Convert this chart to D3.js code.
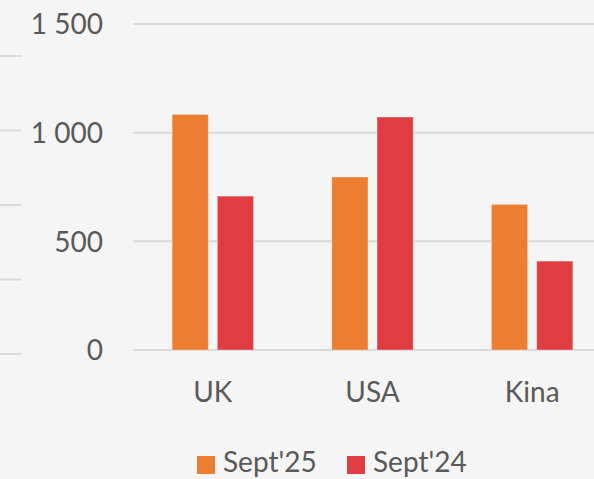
<!DOCTYPE html>
<html>
<head>
<meta charset="utf-8">
<script src="https://cdn.jsdelivr.net/npm/d3@7"></script>
<style>
  html, body { margin: 0; padding: 0; background: #F5F5F5; }
  svg { display: block; }
  text { font-family: Lato, "Open Sans", sans-serif; fill: #595959; }
</style>
</head>
<body>
<svg id="chart" width="594" height="479"></svg>
<script>
// ---- data ----
const categories = ["UK", "USA", "Kina"];
const seriesNames = ["Sept'25", "Sept'24"];
const sept25 = [1084, 796, 670];
const sept24 = [708, 1072, 409];
const yTicks = [0, 500, 1000, 1500];
const colors = ["#ED7D31", "#DF3D41"];
// neighbouring (cropped) chart gridlines at the left edge
const leftGridTicks = [0, 1, 2, 3, 4];

const svg = d3.select("#chart");
const W = 594, H = 479;

const y = d3.scaleLinear().domain([0, 1500]).range([350, 24]);
const x0 = d3.scaleBand().domain(categories).range([133, 612]).paddingInner(0.49).paddingOuter(0.245);
const x1 = d3.scaleBand().domain(seriesNames).range([0, x0.bandwidth()]).paddingInner(0.2);

// left cropped gridlines
const yl = d3.scaleLinear().domain([0, 4]).range([354, 56]);
svg.append("g").selectAll("line").data(leftGridTicks).join("line")
  .attr("x1", 0).attr("x2", 21)
  .attr("y1", d => yl(d)).attr("y2", d => yl(d))
  .attr("stroke", "#D9D9D9").attr("stroke-width", 2);

// gridlines
svg.append("g").selectAll("line").data(yTicks).join("line")
  .attr("x1", 133).attr("x2", W)
  .attr("y1", d => y(d)).attr("y2", d => y(d))
  .attr("stroke", "#D9D9D9").attr("stroke-width", 2);

// y axis labels
const yAxis = d3.axisLeft(y).tickValues(yTicks).tickSize(0).tickPadding(0)
  .tickFormat(v => d3.format(",")(v).replace(/,/g, " "));
const ga = svg.append("g").attr("transform", "translate(103,0)").call(yAxis);
ga.select(".domain").remove();
ga.selectAll("text").style("font-size", "28px").attr("fill", "#595959")
  .attr("dy", "0.35em").attr("font-family", "Lato, 'Open Sans', sans-serif");

// bars
const data = categories.map((c, i) => ({ cat: c, vals: [sept25[i], sept24[i]] }));
const groups = svg.append("g").selectAll("g").data(data).join("g")
  .attr("transform", d => `translate(${x0(d.cat)},0)`);
groups.selectAll("rect").data(d => d.vals.map((v, j) => ({ s: seriesNames[j], v, j })))
  .join("rect")
  .attr("x", d => x1(d.s))
  .attr("y", d => y(d.v))
  .attr("width", x1.bandwidth())
  .attr("height", d => y(0) - y(d.v))
  .attr("fill", d => colors[d.j])
  .attr("stroke", "rgba(255,255,255,0.35)")
  .attr("stroke-width", 1);

// x axis labels
const xAxis = d3.axisBottom(x0).tickSize(0).tickPadding(0);
const gx = svg.append("g").attr("transform", "translate(0,402)").call(xAxis);
gx.select(".domain").remove();
gx.selectAll("text").style("font-size", "28px").attr("fill", "#595959")
  .attr("dy", 0).attr("y", 0).attr("font-family", "Lato, 'Open Sans', sans-serif");

// legend
const legX = [197, 347];
const leg = svg.append("g").selectAll("g").data(seriesNames).join("g")
  .attr("transform", (d, i) => `translate(${legX[i]},456)`);
leg.append("rect").attr("width", 18).attr("height", 18).attr("fill", (d, i) => colors[i]);
leg.append("text").attr("x", 26).attr("y", 16).style("font-size", "28px").text(d => d);
</script>
</body>
</html>
